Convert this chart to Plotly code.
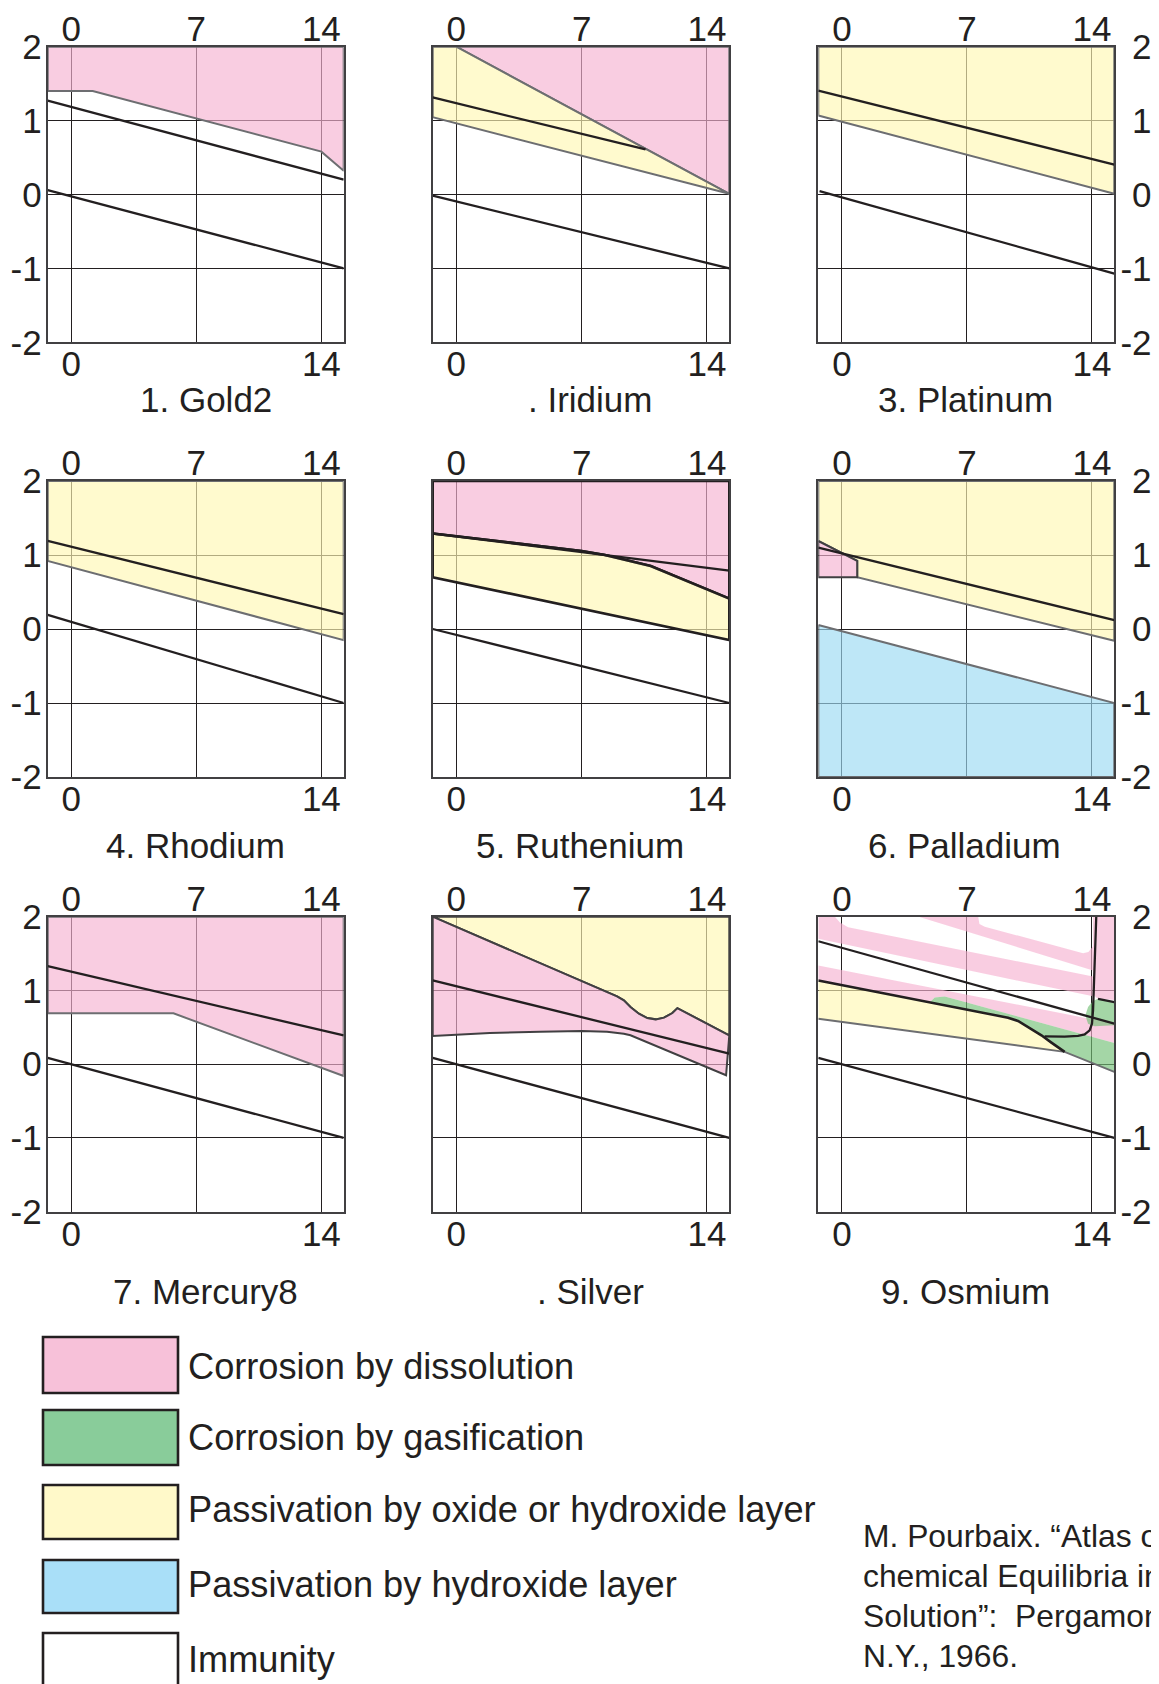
import plotly.graph_objects as go

# ---------------- data (pH on x, potential E in volts on y) ----------------
PH_RANGE = [-1.32, 15.25]
E_RANGE = [-2.0, 2.0]
PH_TOP_TICKS = [0, 7, 14]
PH_TOP_TEXT = ['0', '7', '14']
PH_BOTTOM_TICKS = [0, 14]
PH_BOTTOM_TEXT = ['0', '14']
E_TICKS = [-2, -1, 0, 1, 2]
E_TICK_TEXT = ['-2', '-1', '0', '1', '2']

TITLES = ['1. Gold2', '. Iridium', '3. Platinum',
          '4. Rhodium', '5. Ruthenium', '6. Palladium',
          '7. Mercury8', '. Silver', '9. Osmium']

LEGEND_LABELS = ['Corrosion by dissolution', 'Corrosion by gasification',
                 'Passivation by oxide or hydroxide layer',
                 'Passivation by hydroxide layer', 'Immunity']
CITATION_LINES = ['M. Pourbaix. \u201cAtlas of Electro-',
                  'chemical Equilibria in Aqueous',
                  'Solution\u201d:\u00a0 Pergamon Press,',
                  'N.Y., 1966.']

# 1. Gold
GOLD_DISS_PH = [-1.32, 15.25, 15.25, 14.0, 1.2, -1.32]
GOLD_DISS_E = [2.0, 2.0, 0.32, 0.58, 1.40, 1.40]
GOLD_O2_PH = [-1.32, 15.25]
GOLD_O2_E = [1.27, 0.20]
GOLD_H2_PH = [-1.32, 15.25]
GOLD_H2_E = [0.06, -1.0]

# 2. Iridium
IR_DISS_PH = [0.0, 15.25, 15.25]
IR_DISS_E = [2.0, 2.0, 0.01]
IR_PASS_PH = [-1.32, 0.0, 15.25, -1.32]
IR_PASS_E = [2.0, 2.0, 0.01, 1.045]
IR_O2_PH = [-1.32, 10.57]
IR_O2_E = [1.313, 0.61]
IR_H2_PH = [-1.32, 15.25]
IR_H2_E = [-0.015, -1.0]

# 3. Platinum
PT_PASS_PH = [-1.32, 15.25, 15.25, -1.32]
PT_PASS_E = [2.0, 2.0, 0.01, 1.07]
PT_O2_PH = [-1.32, 15.25]
PT_O2_E = [1.405, 0.405]
PT_H2_PH = [-1.25, 15.25]
PT_H2_E = [0.045, -1.07]

# 4. Rhodium
RH_PASS_PH = [-1.32, 15.25, 15.25, -1.32]
RH_PASS_E = [2.0, 2.0, -0.15, 0.92]
RH_O2_PH = [-1.32, 15.25]
RH_O2_E = [1.19, 0.20]
RH_H2_PH = [-1.32, 15.25]
RH_H2_E = [0.19, -1.0]

# 5. Ruthenium
RU_DISS_PH = [-1.32, 15.25, 15.25, 10.86, 8.3, 7.0, -1.32]
RU_DISS_E = [2.0, 2.0, 0.41, 0.85, 1.0, 1.055, 1.29]
RU_PASS_PH = [-1.32, 7.0, 8.3, 10.86, 15.25, 15.25, -1.32]
RU_PASS_E = [1.29, 1.055, 1.0, 0.85, 0.41, -0.15, 0.70]
RU_O2_PH = [-1.32, 15.25]
RU_O2_E = [1.29, 0.79]
RU_H2_PH = [-1.32, 15.25]
RU_H2_E = [0.0, -1.0]

# 6. Palladium
PD_PASS_PH = [-1.32, 15.25, 15.25, 0.86, 0.86, -1.32]
PD_PASS_E = [2.0, 2.0, -0.16, 0.70, 0.92, 1.19]
PD_DISS_PH = [-1.32, 0.86, 0.86, -1.32]
PD_DISS_E = [1.19, 0.92, 0.70, 0.70]
PD_HYD_PH = [-1.32, 15.25, 15.25, -1.32]
PD_HYD_E = [0.055, -1.0, -2.0, -2.0]
PD_O2_PH = [-1.32, 15.25]
PD_O2_E = [1.10, 0.12]

# 7. Mercury
HG_DISS_PH = [-1.32, 15.25, 15.25, 5.72, -1.32]
HG_DISS_E = [2.0, 2.0, -0.16, 0.69, 0.69]
HG_O2_PH = [-1.32, 15.25]
HG_O2_E = [1.33, 0.39]
HG_H2_PH = [-1.32, 15.25]
HG_H2_E = [0.086, -1.0]

# 8. Silver
AG_PASS_PH = [-1.32, 15.25, 15.25, 12.35, 12.07, 11.60, 11.14, 10.67, 10.20, 9.73, 9.36, 8.98]
AG_PASS_E = [2.0, 2.0, 0.39, 0.76, 0.694, 0.631, 0.608, 0.626, 0.685, 0.775, 0.865, 0.919]
AG_DISS_PH = [-1.32, 8.98, 9.36, 9.73, 10.20, 10.67, 11.14, 11.60, 12.07, 12.35, 15.25,
              15.07, 9.73, 9.36, 8.42, 7.0, 4.68, 1.87, -1.32]
AG_DISS_E = [2.0, 0.919, 0.865, 0.775, 0.685, 0.626, 0.608, 0.631, 0.694, 0.76, 0.39,
             -0.15, 0.392, 0.414, 0.441, 0.45, 0.441, 0.423, 0.383]
AG_O2_PH = [-1.32, 15.25]
AG_O2_E = [1.135, 0.145]
AG_H2_PH = [-1.32, 15.25]
AG_H2_E = [0.086, -1.0]

# 9. Osmium
OS_BAND_A_PH = [4.30, 7.63, 7.70, 8.0, 13.50, 13.80, 14.06, 14.06]
OS_BAND_A_E = [2.0, 2.0, 1.90, 1.865, 1.505, 1.52, 1.60, 1.27]
OS_BAND_B_PH = [-1.32, -0.39, -0.11, 0.35, 14.06, 14.06, -1.32]
OS_BAND_B_E = [2.0, 2.0, 1.92, 1.856, 1.19, 0.92, 1.70]
OS_COL_PH = [14.06, 15.25, 15.25, 14.3, 14.06]
OS_COL_E = [2.0, 2.0, 0.87, 0.89, 0.95]
OS_BAND_C_PH = [-1.32, 15.25, 15.25, 5.76, 5.2, 4.92, -1.32]
OS_BAND_C_E = [1.34, 0.55, 0.288, 0.919, 0.905, 0.839, 1.135]
OS_GAS_PH = [4.92, 5.2, 5.76, 15.25, 15.25, 12.47, 11.73, 11.17, 10.42, 9.86, 9.30]
OS_GAS_E = [0.839, 0.905, 0.919, 0.288, -0.104, 0.167, 0.293, 0.392, 0.505, 0.586, 0.631]
OS_GAS2_PH = [14.34, 15.25, 15.25, 14.15, 13.78, 13.63, 13.78, 14.06]
OS_GAS2_E = [0.887, 0.842, 0.527, 0.514, 0.55, 0.662, 0.775, 0.856]
OS_PASS_PH = [-1.32, 9.30, 9.86, 10.42, 11.17, 11.73, 12.47, -1.32]
OS_PASS_E = [1.135, 0.631, 0.586, 0.505, 0.392, 0.293, 0.167, 0.617]
OS_O2_PH = [-1.32, 15.25]
OS_O2_E = [1.667, 0.55]
OS_EDGE_PH = [-1.32, 9.30, 9.86, 10.42, 11.17, 11.73, 12.47]
OS_EDGE_E = [1.135, 0.631, 0.586, 0.505, 0.392, 0.293, 0.167]
OS_U_PH = [11.35, 12.47, 13.22, 13.59, 13.87, 14.0, 14.06, 14.11, 14.17, 14.24]
OS_U_E = [0.378, 0.374, 0.383, 0.405, 0.459, 0.55, 0.73, 1.18, 1.63, 2.0]
OS_SHORT_PH = [14.34, 15.25]
OS_SHORT_E = [0.887, 0.842]
OS_GREY_PH = [-1.32, 12.47, 15.25]
OS_GREY_E = [0.617, 0.167, -0.104]
OS_H2_PH = [-1.32, 15.25]
OS_H2_E = [0.086, -1.0]

# ---------------- styles ----------------
INK = '#231f20'
FONT = 'Liberation Sans, Arial, sans-serif'
FILL = {'diss': 'rgba(246,178,209,0.65)', 'gas': 'rgba(115,192,118,0.65)',
        'pass': 'rgba(255,247,180,0.65)', 'hyd': 'rgba(155,218,243,0.65)'}
LINE = {'water': dict(color=INK, width=2.3), 'bound': dict(color='#6d6e71', width=2.0),
        'dark': dict(color=INK, width=2.6), 'darkgrey': dict(color='#414042', width=2.0)}

PANELS = [
    dict(regions=[(GOLD_DISS_PH, GOLD_DISS_E, 'diss', 'bound')],
         lines=[(GOLD_O2_PH, GOLD_O2_E, 'water'), (GOLD_H2_PH, GOLD_H2_E, 'water')]),
    dict(regions=[(IR_DISS_PH, IR_DISS_E, 'diss', 'bound'), (IR_PASS_PH, IR_PASS_E, 'pass', 'bound')],
         lines=[(IR_O2_PH, IR_O2_E, 'water'), (IR_H2_PH, IR_H2_E, 'water')]),
    dict(regions=[(PT_PASS_PH, PT_PASS_E, 'pass', 'bound')],
         lines=[(PT_O2_PH, PT_O2_E, 'water'), (PT_H2_PH, PT_H2_E, 'water')]),
    dict(regions=[(RH_PASS_PH, RH_PASS_E, 'pass', 'bound')],
         lines=[(RH_O2_PH, RH_O2_E, 'water'), (RH_H2_PH, RH_H2_E, 'water')]),
    dict(regions=[(RU_DISS_PH, RU_DISS_E, 'diss', 'dark'), (RU_PASS_PH, RU_PASS_E, 'pass', 'dark')],
         lines=[(RU_O2_PH, RU_O2_E, 'water'), (RU_H2_PH, RU_H2_E, 'water')]),
    dict(regions=[(PD_PASS_PH, PD_PASS_E, 'pass', 'bound'), (PD_DISS_PH, PD_DISS_E, 'diss', 'darkgrey'),
                  (PD_HYD_PH, PD_HYD_E, 'hyd', 'bound')],
         lines=[(PD_O2_PH, PD_O2_E, 'water')]),
    dict(regions=[(HG_DISS_PH, HG_DISS_E, 'diss', 'bound')],
         lines=[(HG_O2_PH, HG_O2_E, 'water'), (HG_H2_PH, HG_H2_E, 'water')]),
    dict(regions=[(AG_PASS_PH, AG_PASS_E, 'pass', 'darkgrey'), (AG_DISS_PH, AG_DISS_E, 'diss', 'darkgrey')],
         lines=[(AG_O2_PH, AG_O2_E, 'water'), (AG_H2_PH, AG_H2_E, 'water')]),
    dict(regions=[(OS_BAND_A_PH, OS_BAND_A_E, 'diss', None), (OS_BAND_B_PH, OS_BAND_B_E, 'diss', None),
                  (OS_COL_PH, OS_COL_E, 'diss', None), (OS_BAND_C_PH, OS_BAND_C_E, 'diss', None),
                  (OS_GAS_PH, OS_GAS_E, 'gas', None), (OS_GAS2_PH, OS_GAS2_E, 'gas', None),
                  (OS_PASS_PH, OS_PASS_E, 'pass', None)],
         lines=[(OS_GREY_PH, OS_GREY_E, 'bound'), (OS_O2_PH, OS_O2_E, 'water'),
                (OS_EDGE_PH, OS_EDGE_E, 'dark'), (OS_U_PH, OS_U_E, 'water'),
                (OS_SHORT_PH, OS_SHORT_E, 'water'), (OS_H2_PH, OS_H2_E, 'water')]),
]

# ---------------- layout geometry (page pixels) ----------------
PAGE_W, PAGE_H = 1159, 1684
BODY = 8                      # default page margin around the figure div
W, H = PAGE_W - BODY, PAGE_H - BODY
COL_PX = [(47.7, 343.7), (432.7, 729.3), (818.3, 1114.3)]
ROW_PX = [(46.7, 342.3), (481.0, 777.0), (916.7, 1211.7)]
TITLE_CX = [205.7, 589.7, 965.0, 195.0, 580.0, 964.6, 205.0, 590.0, 965.0]
TITLE_CY = [399.6, 845.0, 1291.0]
TICKFONT = dict(family=FONT, size=35, color=INK)


def px_x(v):
    return (v - BODY) / W


def px_y(v):
    return 1 - (v - BODY) / H


def ref(prefix, n):
    return prefix if n == 1 else f'{prefix}{n}'


fig = go.Figure()
layout = dict(width=W, height=H, margin=dict(l=0, r=0, t=0, b=0, autoexpand=False),
              paper_bgcolor='white', plot_bgcolor='white', showlegend=False,
              font=dict(family=FONT, color=INK))
annotations = []
shapes = []

for k, panel in enumerate(PANELS):
    r, c = divmod(k, 3)
    n = k + 1
    xa, ya, xo = ref('x', n), ref('y', n), f'x{n + 9}'
    for ph, e, kind, outline in panel['regions']:
        line = LINE[outline] if outline else dict(width=0, color='rgba(0,0,0,0)')
        fig.add_trace(go.Scatter(x=list(ph) + [ph[0]], y=list(e) + [e[0]], mode='lines',
                                 fill='toself', fillcolor=FILL[kind], line=line,
                                 xaxis=xa, yaxis=ya, hoverinfo='skip'))
    for ph, e, style in panel['lines']:
        fig.add_trace(go.Scatter(x=ph, y=e, mode='lines', line=LINE[style],
                                 xaxis=xa, yaxis=ya, hoverinfo='skip'))
    fig.add_trace(go.Scatter(x=[None], y=[None], mode='markers', xaxis=xo, yaxis=ya,
                             hoverinfo='skip', marker=dict(opacity=0)))

    xd = [px_x(COL_PX[c][0]), px_x(COL_PX[c][1])]
    yd = [px_y(ROW_PX[r][1]), px_y(ROW_PX[r][0])]
    layout[ref('xaxis', n)] = dict(domain=xd, range=PH_RANGE, anchor=ya, side='top',
                                   tickmode='array', tickvals=PH_TOP_TICKS, ticktext=PH_TOP_TEXT,
                                   showgrid=True, gridcolor=INK, gridwidth=1.3, zeroline=False,
                                   showline=True, mirror=True, linecolor='#414042', linewidth=2.2,
                                   ticks='', tickfont=TICKFONT, fixedrange=True, automargin=False,
                                   ticklabelstandoff=-10)
    layout[f'xaxis{n + 9}'] = dict(range=PH_RANGE, anchor=ya, overlaying=xa, side='bottom',
                                   tickmode='array', tickvals=PH_BOTTOM_TICKS, ticktext=PH_BOTTOM_TEXT,
                                   showgrid=False, zeroline=False, showline=False,
                                   ticks='', tickfont=TICKFONT, fixedrange=True, automargin=False,
                                   ticklabelstandoff=-2)
    if c == 2:
        ytext = [t if t.startswith('-') else f'<span style="color:rgba(0,0,0,0)">-</span>{t}'
                 for t in E_TICK_TEXT]
    else:
        ytext = E_TICK_TEXT
    layout[ref('yaxis', n)] = dict(domain=yd, range=E_RANGE, anchor=xa,
                                   side='right' if c == 2 else 'left',
                                   tickmode='array', tickvals=E_TICKS, ticktext=ytext,
                                   showticklabels=(c != 1),
                                   showgrid=True, gridcolor=INK, gridwidth=1.3, zeroline=False,
                                   showline=True, mirror=True, linecolor='#414042', linewidth=2.2,
                                   ticks='', tickfont=TICKFONT, fixedrange=True, automargin=False,
                                   ticklabelstandoff=-3)
    annotations.append(dict(text=TITLES[k], x=px_x(TITLE_CX[k]), y=px_y(TITLE_CY[r]),
                            xref='paper', yref='paper', xanchor='center', yanchor='middle',
                            showarrow=False, font=dict(family=FONT, size=35, color=INK)))

# legend (swatches + labels)
SWATCH_COLORS = ['#f7c1d9', '#89cc9a', '#fff9c9', '#a9dff8', '#ffffff']
SWATCH_ROWS = [(1337, 1393), (1410, 1465), (1485, 1539), (1560, 1613), (1633, 1710)]
LABEL_CY = [1366, 1437, 1509, 1584, 1659]
for i, label in enumerate(LEGEND_LABELS):
    top, bot = SWATCH_ROWS[i]
    shapes.append(dict(type='rect', xref='paper', yref='paper',
                       x0=px_x(43), x1=px_x(178), y0=px_y(bot), y1=px_y(top),
                       fillcolor=SWATCH_COLORS[i], line=dict(color=INK, width=2.6)))
    annotations.append(dict(text=label, x=px_x(186), y=px_y(LABEL_CY[i]), xref='paper', yref='paper',
                            xanchor='left', yanchor='middle', showarrow=False,
                            font=dict(family=FONT, size=36.2, color=INK)))

CIT_CY = [1536, 1576, 1616, 1656]
for i, line in enumerate(CITATION_LINES):
    annotations.append(dict(text=line, x=px_x(861), y=px_y(CIT_CY[i]), xref='paper', yref='paper',
                            xanchor='left', yanchor='middle', showarrow=False,
                            font=dict(family=FONT, size=31.8, color=INK)))

layout['annotations'] = annotations
layout['shapes'] = shapes
fig.update_layout(**layout)
fig.write_html('out.html')
